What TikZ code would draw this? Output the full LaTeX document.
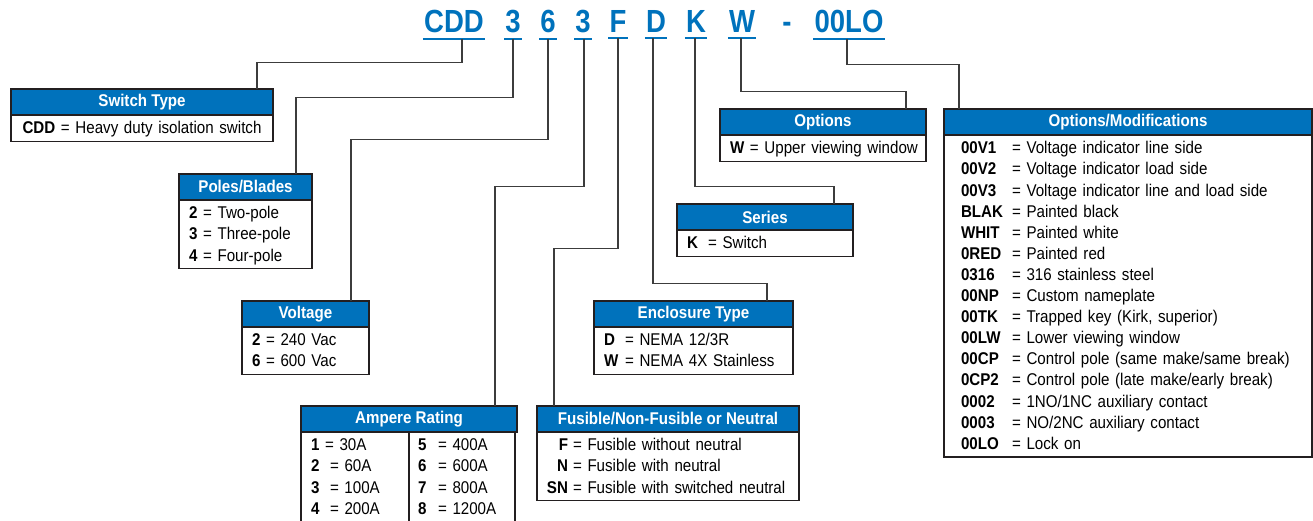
\documentclass[tikz,border=0pt]{standalone}
\usepackage{fontspec}
\setmainfont{Liberation Sans}[FakeStretch=0.89]
\newfontfamily\codefont{Liberation Sans}[FakeStretch=0.86]
\usepackage{tikz}
\usetikzlibrary{positioning}

\definecolor{hdblue}{RGB}{0,114,188}
\definecolor{boxline}{RGB}{35,31,32}
\definecolor{linkgray}{RGB}{60,60,60}

\newcommand{\rowstrut}{\rule[-5pt]{0pt}{21.1pt}}
\newcommand{\bodyfont}{\fontsize{17}{21.1}\selectfont}
\newcommand{\lcode}[2]{\makebox[#1][l]{\bfseries #2}}
\newcommand{\rcode}[2]{\makebox[#1][r]{\bfseries #2}\hspace{5pt}}

\tikzset{
  boxhead/.style={draw=boxline, line width=1.2pt, fill=hdblue, text=white,
    font=\bodyfont\bfseries, minimum height=26pt, minimum width=#1,
    inner sep=0pt, outer sep=0pt, anchor=north west},
  boxbody/.style={draw=boxline, line width=1.2pt, font=\bodyfont,
    text width=#1, inner xsep=10pt, inner ysep=2.7pt, outer sep=0pt,
    align=left, execute at begin node=\rowstrut, execute at end node=\rowstrut},
  codeltr/.style={font=\codefont\fontsize{32}{32}\selectfont\bfseries,
    text=hdblue, inner xsep=1pt, inner ysep=0pt, anchor=base},
  uline/.style={draw=hdblue, line width=2pt},
  link/.style={draw=linkgray, line width=1.4pt}
}

\begin{document}
\begin{tikzpicture}[x=1pt, y=-1pt]
  \useasboundingbox (0,0) rectangle (1313,520);

  % catalog number
  \node[codeltr] (cdd)  at (454,32) {CDD};
  \node[codeltr] (pole) at (513,32) {3};
  \node[codeltr] (volt) at (548,32) {6};
  \node[codeltr] (amp)  at (583,32) {3};
  \node[codeltr] (fus)  at (618,32) {F};
  \node[codeltr] (encl) at (656,32) {D};
  \node[codeltr] (ser)  at (696,32) {K};
  \node[codeltr] (opt)  at (742,32) {W};
  \node[codeltr] (dash) at (787,32) {-};
  \node[codeltr] (mods) at (849,32) {00LO};
  \foreach \c in {cdd,pole,volt,amp,fus,encl,ser,opt,mods}
    \draw[uline] ([yshift=-6pt]\c.south west) -- ([yshift=-6pt]\c.south east);

  % switch type
  \node[boxhead=262pt] (swhd) at (11,89) {Switch Type};
  \node[boxbody=242pt, align=center, below=0pt of swhd] (swbody)
    {\textbf{CDD} = Heavy duty isolation switch};

  % poles
  \node[boxhead=133pt] (polehd) at (179,174) {Poles/Blades};
  \node[boxbody=113pt, below=0pt of polehd] (polebody)
    {\textbf{2} = Two-pole\\ \textbf{3} = Three-pole\\ \textbf{4} = Four-pole};

  % voltage
  \node[boxhead=127pt] (volthd) at (242,301) {Voltage};
  \node[boxbody=107pt, below=0pt of volthd] (voltbody)
    {\textbf{2} = 240 Vac\\ \textbf{6} = 600 Vac};

  % ampere rating
  \node[boxhead=216pt] (amphd) at (301,406) {Ampere Rating};
  \node[boxbody=88pt, below right=0pt and 0pt of amphd.south west] (ampleft)
    {\textbf{1} = 30A\\ \lcode{19pt}{2}= 60A\\ \lcode{19pt}{3}= 100A\\ \lcode{19pt}{4}= 200A};
  \node[boxbody=88pt, inner xsep=9pt, right=0pt of ampleft] (ampright)
    {\lcode{20pt}{5}= 400A\\ \lcode{20pt}{6}= 600A\\ \lcode{20pt}{7}= 800A\\ \lcode{20pt}{8}= 1200A};

  % fusible
  \node[boxhead=262pt] (fushd) at (537,406) {Fusible/Non-Fusible or Neutral};
  \node[boxbody=242pt, below=0pt of fushd] (fusbody)
    {\rcode{21pt}{F}= Fusible without neutral\\
     \rcode{21pt}{N}= Fusible with neutral\\
     \rcode{21pt}{SN}= Fusible with switched neutral};

  % enclosure
  \node[boxhead=199pt] (enclhd) at (594,301) {Enclosure Type};
  \node[boxbody=179pt, below=0pt of enclhd] (enclbody)
    {\lcode{21pt}{D}= NEMA 12/3R\\ \lcode{21pt}{W}= NEMA 4X Stainless};

  % series
  \node[boxhead=176pt] (serhd) at (677,204) {Series};
  \node[boxbody=156pt, below=0pt of serhd] (serbody)
    {\lcode{21pt}{K}= Switch};

  % options
  \node[boxhead=206pt] (opthd) at (720,109) {Options};
  \node[boxbody=186pt, below=0pt of opthd] (optbody)
    {\mbox{\textbf{W} = Upper viewing window}};

  % options/modifications
  \node[boxhead=368pt] (modhd) at (944,109) {Options/Modifications};
  \node[boxbody=334pt, inner xsep=17pt, below=0pt of modhd] (modbody)
    {\lcode{51pt}{00V1}= Voltage indicator line side\\
     \lcode{51pt}{00V2}= Voltage indicator load side\\
     \lcode{51pt}{00V3}= Voltage indicator line and load side\\
     \lcode{51pt}{BLAK}= Painted black\\
     \lcode{51pt}{WHIT}= Painted white\\
     \lcode{51pt}{0RED}= Painted red\\
     \lcode{51pt}{0316}= 316 stainless steel\\
     \lcode{51pt}{00NP}= Custom nameplate\\
     \lcode{51pt}{00TK}= Trapped key (Kirk, superior)\\
     \lcode{51pt}{00LW}= Lower viewing window\\
     \lcode{51pt}{00CP}= Control pole (same make/same break)\\
     \lcode{51pt}{0CP2}= Control pole (late make/early break)\\
     \lcode{51pt}{0002}= 1NO/1NC auxiliary contact\\
     \lcode{51pt}{0003}= NO/2NC auxiliary contact\\
     \lcode{51pt}{00LO}= Lock on};

  % connectors
  \draw[link] ([xshift=8pt,yshift=-6pt]cdd.south) -- ++(0,24) -| ([xshift=-16pt]swhd.north east);
  \draw[link] ([yshift=-6pt]pole.south) -- ++(0,59) -| ([xshift=-16pt]polehd.north east);
  \draw[link] ([yshift=-6pt]volt.south) -- ++(0,101) -| ([xshift=-18pt]volthd.north east);
  \draw[link] ([xshift=1pt,yshift=-6pt]amp.south) -- ++(0,148) -| ([xshift=-22pt]amphd.north east);
  \draw[link] ([yshift=-6pt]fus.south) -- ++(0,210) -| ([xshift=17pt]fushd.north west);
  \draw[link] ([xshift=-3pt,yshift=-6pt]encl.south) -- ++(0,245) -| ([xshift=-26pt]enclhd.north east);
  \draw[link] ([xshift=-1pt,yshift=-6pt]ser.south) -- ++(0,148) -| ([xshift=-19pt]serhd.north east);
  \draw[link] ([xshift=-1pt,yshift=-6pt]opt.south) -- ++(0,53) -| ([xshift=-20pt]opthd.north east);
  \draw[link] ([xshift=-2pt,yshift=-6pt]mods.south) -- ++(0,26) -| ([xshift=15pt]modhd.north west);
\end{tikzpicture}
\end{document}
